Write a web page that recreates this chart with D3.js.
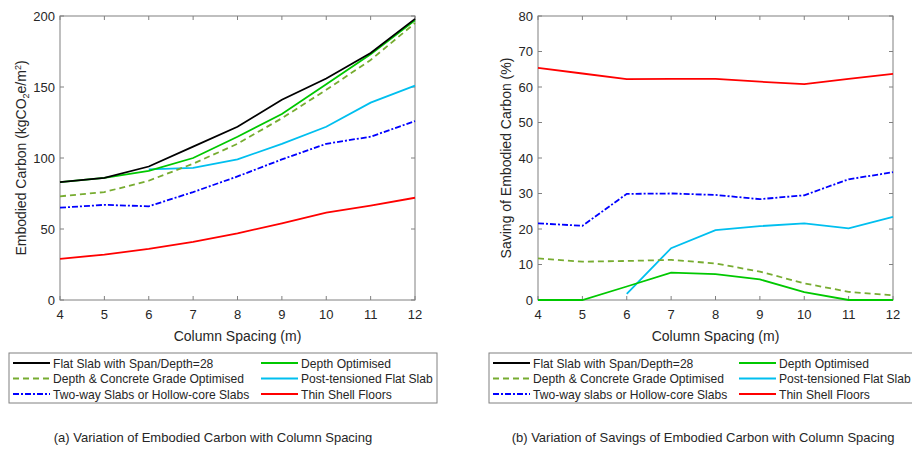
<!DOCTYPE html>
<html>
<head>
<meta charset="utf-8">
<script src="https://cdn.jsdelivr.net/npm/d3@7"></script>
<style>
  body { margin: 0; background: #fff; }
  svg { display: block; font-family: Arial, "Liberation Sans", sans-serif; }
</style>
</head>
<body>
<svg id="chart" width="912" height="449"></svg>
<script>
// column spacing (m)
var spacing = [4, 5, 6, 7, 8, 9, 10, 11, 12];

// (a) embodied carbon, kgCO2e/m2
var carbonFlatSlab      = [83, 86, 94, 108, 122, 141, 156, 174, 198];
var carbonDepthOpt      = [83, 86, 91, 100, 115, 131, 152, 173, 197];
var carbonDepthGrade    = [73, 76, 84, 96, 110, 128, 148, 169, 195];
var carbonPostTensioned = [null, null, 92, 93, 99, 110, 122, 139, 151];
var carbonTwoWay        = [65, 67, 66, 76, 87, 99, 110, 115, 126];
var carbonThinShell     = [29, 32, 36, 41, 47, 54, 61.5, 66.5, 72];

// (b) saving of embodied carbon, %
var savingDepthOpt      = [0, 0, 3.8, 7.7, 7.3, 5.8, 2.2, 0, 0];
var savingDepthGrade    = [11.7, 10.8, 11.0, 11.3, 10.3, 8.0, 4.7, 2.3, 1.3];
var savingPostTensioned = [null, null, 1.7, 14.6, 19.7, 20.8, 21.6, 20.2, 23.4];
var savingTwoWay        = [21.6, 20.9, 29.9, 30.0, 29.6, 28.4, 29.5, 34, 36];
var savingThinShell     = [65.4, 63.8, 62.2, 62.3, 62.3, 61.5, 60.8, 62.3, 63.7];

var carbonTicks = [0, 50, 100, 150, 200];
var savingTicks = [0, 10, 20, 30, 40, 50, 60, 70, 80];

var legendA = ["Flat Slab with Span/Depth=28", "Depth Optimised",
               "Depth & Concrete Grade Optimised", "Post-tensioned Flat Slab",
               "Two-way Slabs or Hollow-core Slabs", "Thin Shell Floors"];
var legendB = ["Flat Slab with Span/Depth=28", "Depth Optimised",
               "Depth & Concrete Grade Optimised", "Post-tensioned Flat Slab",
               "Two-way slabs or Hollow-core Slabs", "Thin Shell Floors"];

// line styles, same order as legend
var styles = [
  {color: "#000000", dash: null},
  {color: "#00c800", dash: null},
  {color: "#77ac30", dash: "6,4"},
  {color: "#00bfef", dash: null},
  {color: "#0000ff", dash: "6,2,2,2"},
  {color: "#ff0000", dash: null}
];

var svg = d3.select("#chart");
var axisColor = "#808080", textColor = "#262626";

function panel(p) {
  var x = d3.scaleLinear().domain([4, 12]).range([p.left, p.right]);
  var y = d3.scaleLinear().domain([p.yTicks[0], p.yTicks[p.yTicks.length - 1]]).range([p.bottom, p.top]);
  var g = svg.append("g");

  // box
  g.append("rect")
    .attr("x", p.left).attr("y", p.top)
    .attr("width", p.right - p.left).attr("height", p.bottom - p.top)
    .attr("fill", "none").attr("stroke", axisColor).attr("stroke-width", 1);

  var tl = 4;
  // inward ticks on all four sides
  spacing.forEach(function(v) {
    g.append("line").attr("x1", x(v)).attr("x2", x(v)).attr("y1", p.bottom).attr("y2", p.bottom - tl).attr("stroke", axisColor);
    g.append("line").attr("x1", x(v)).attr("x2", x(v)).attr("y1", p.top).attr("y2", p.top + tl).attr("stroke", axisColor);
  });
  p.yTicks.forEach(function(v) {
    g.append("line").attr("x1", p.left).attr("x2", p.left + tl).attr("y1", y(v)).attr("y2", y(v)).attr("stroke", axisColor);
    g.append("line").attr("x1", p.right).attr("x2", p.right - tl).attr("y1", y(v)).attr("y2", y(v)).attr("stroke", axisColor);
  });

  g.selectAll(".xt").data(spacing).enter().append("text")
    .attr("x", function(d) { return x(d); }).attr("y", p.bottom + 19)
    .attr("text-anchor", "middle").attr("font-size", 13).attr("fill", textColor)
    .text(function(d) { return d; });
  g.selectAll(".yt").data(p.yTicks).enter().append("text")
    .attr("x", p.left - 5).attr("y", function(d) { return y(d) + 4.5; })
    .attr("text-anchor", "end").attr("font-size", 13).attr("fill", textColor)
    .text(function(d) { return d; });

  // axis titles
  g.append("text")
    .attr("x", (p.left + p.right) / 2).attr("y", p.bottom + 41)
    .attr("text-anchor", "middle").attr("font-size", 14).attr("fill", textColor)
    .text("Column Spacing (m)");
  var yl = g.append("text")
    .attr("transform", "translate(" + p.yLabelX + "," + ((p.top + p.bottom) / 2) + ") rotate(-90)")
    .attr("text-anchor", "middle").attr("font-size", 14).attr("fill", textColor);
  p.yLabel(yl);

  // lines
  var line = d3.line()
    .defined(function(d) { return d[1] !== null; })
    .x(function(d) { return x(d[0]); })
    .y(function(d) { return y(d[1]); });
  p.order.forEach(function(i) {
    var vals = p.series[i];
    if (!vals) return;
    g.append("path")
      .datum(spacing.map(function(s, k) { return [s, vals[k]]; }))
      .attr("d", line)
      .attr("fill", "none")
      .attr("stroke", styles[i].color)
      .attr("stroke-width", 1.8)
      .attr("stroke-dasharray", styles[i].dash);
  });

  // legend
  var lg = svg.append("g");
  lg.append("rect")
    .attr("x", p.legX).attr("y", 353).attr("width", p.legW).attr("height", 50)
    .attr("fill", "#fff").attr("stroke", axisColor);
  p.labels.forEach(function(lbl, i) {
    var col = i % 2, row = Math.floor(i / 2);
    var sx = col === 0 ? p.legX + 4 : p.legCol2;
    var ly = 363 + row * 15.5;
    lg.append("line")
      .attr("x1", sx).attr("x2", sx + 37).attr("y1", ly).attr("y2", ly)
      .attr("stroke", styles[i].color).attr("stroke-width", 1.8)
      .attr("stroke-dasharray", styles[i].dash);
    lg.append("text")
      .attr("x", sx + 40).attr("y", ly + 4.5)
      .attr("font-size", 12.1).attr("fill", textColor)
      .text(lbl);
  });

  svg.append("text")
    .attr("x", p.capX).attr("y", 442)
    .attr("text-anchor", "middle").attr("font-size", 13).attr("fill", textColor)
    .text(p.caption);
}

panel({
  left: 60, right: 415, top: 16, bottom: 300,
  yTicks: carbonTicks,
  yLabelX: 26,
  yLabel: function(t) {
    t.append("tspan").text("Embodied Carbon (kgCO");
    t.append("tspan").attr("font-size", 9).attr("dy", 3).text("2");
    t.append("tspan").attr("dy", -3).text("e/m");
    t.append("tspan").attr("font-size", 9).attr("dy", -5).text("2");
    t.append("tspan").attr("dy", 5).text(")");
  },
  series: [carbonFlatSlab, carbonDepthOpt, carbonDepthGrade, carbonPostTensioned, carbonTwoWay, carbonThinShell],
  order: [5, 4, 3, 2, 1, 0],
  labels: legendA,
  legX: 9, legW: 428, legCol2: 261,
  capX: 213,
  caption: "(a) Variation of Embodied Carbon with Column Spacing"
});

panel({
  left: 538, right: 893, top: 16, bottom: 300,
  yTicks: savingTicks,
  yLabelX: 511,
  yLabel: function(t) { t.text("Saving of Embodied Carbon (%)"); },
  series: [null, savingDepthOpt, savingDepthGrade, savingPostTensioned, savingTwoWay, savingThinShell],
  order: [5, 4, 3, 2, 1],
  labels: legendB,
  legX: 489, legW: 430, legCol2: 739,
  capX: 703,
  caption: "(b) Variation of Savings of Embodied Carbon with Column Spacing"
});
</script>
</body>
</html>
